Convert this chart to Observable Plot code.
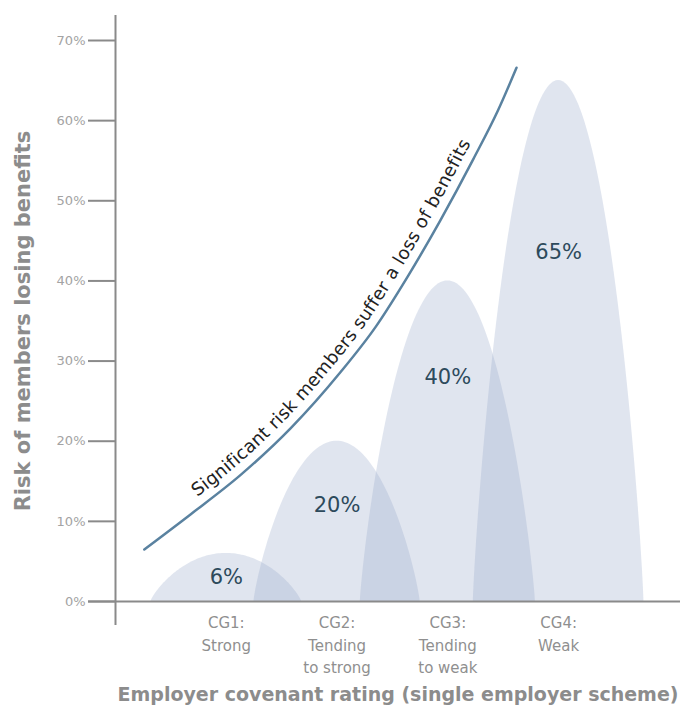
<!DOCTYPE html>
<html>
<head>
<meta charset="utf-8">
<script src="https://cdn.jsdelivr.net/npm/d3@7"></script>
<script src="https://cdn.jsdelivr.net/npm/@observablehq/plot@0.6"></script>
<style>
  body { margin: 0; background: #fff; }
  #chart svg { display: block; }
</style>
</head>
<body>
<div id="chart"></div>
<script>
// ---- data ----
const categories = ["CG1", "CG2", "CG3", "CG4"];
const ratings = ["Strong", "Tending\nto strong", "Tending\nto weak", "Weak"];
const risk = [6, 20, 40, 65];
// trend curve (x in category units, y in %)
const curveX = [0.26, 0.68, 1.13, 1.58, 2.03, 2.35, 2.64, 2.93, 3.23, 3.45, 3.62];
const curveY = [6.5, 10.9, 15.8, 21.6, 28.6, 34.3, 40.6, 47.5, 55.2, 61.2, 66.6];
const yTicks = [0, 10, 20, 30, 40, 50, 60, 70];
const curveText = "Significant risk members suffer a loss of benefits";
const yTitle = "Risk of members losing benefits";
const xTitle = "Employer covenant rating (single employer scheme)";

// ---- layout (shape) constants ----
const halfWidth = [0.68, 0.75, 0.79, 0.77];
const labelFrac = [0.5, 0.6, 0.7, 0.67];

// arch outlines built from each value
const arches = [];
risk.forEach((v, i) => {
  const c = i + 1, w = halfWidth[i], N = 120;
  for (let k = 0; k <= N; k++) {
    const u = -Math.cos(Math.PI * k / N);
    arches.push({cat: categories[i], x: c + w * u, y: v * Math.pow(Math.max(0, 1 - u * u), 1 / 1.2)});
  }
});
const curve = curveX.map((x, i) => ({x, y: curveY[i]}));

const font = "'DejaVu Sans', Verdana, sans-serif";

const plot = Plot.plot({
  width: 680,
  height: 707,
  marginLeft: 115,
  marginRight: 0,
  marginTop: 40,
  marginBottom: 106,
  x: {domain: [0, 5.1], axis: null},
  y: {domain: [0, 70], axis: null},
  style: {fontFamily: font, background: "#fff", overflow: "visible"},
  marks: [
    Plot.areaY(arches, {x: "x", y: "y", z: "cat", fill: "#98a8ca", fillOpacity: 0.3, curve: "linear"}),
    Plot.ruleX([0], {stroke: "#8a8a8a", strokeWidth: 2, insetTop: -25, insetBottom: -24}),
    Plot.ruleY([0], {stroke: "#8a8a8a", strokeWidth: 2, insetLeft: -27}),
    Plot.axisY({ticks: yTicks, tickSize: 27, tickPadding: 3, tickFormat: d => d + "%",
                fontSize: 13, stroke: "#8a8a8a", strokeWidth: 2, fill: "#a3a3a3", label: null}),
    Plot.line(curve, {x: "x", y: "y", stroke: "#5a82a0", strokeWidth: 2.5, curve: "monotone-x"}),
    Plot.text(risk, {x: (d, i) => i + 1, y: (d, i) => d * labelFrac[i], text: d => d + "%",
                     fontSize: 21, fill: "#2d4a5c"}),
    Plot.text(categories, {x: (d, i) => i + 1, y: () => 0, text: (d, i) => d + ":\n" + ratings[i],
                           lineAnchor: "top", dy: 11, fontSize: 15, lineHeight: 1.5, fill: "#8f8f8f"}),
    Plot.text([yTitle], {frameAnchor: "left", textAnchor: "middle", lineAnchor: "middle", rotate: -90, dx: -92,
                         fontSize: 21, fontWeight: "bold", fill: "#8c8c8c"}),
    Plot.text([xTitle], {frameAnchor: "bottom", textAnchor: "middle", lineAnchor: "middle", dy: 93,
                         fontSize: 19, fontWeight: "bold", fill: "#8c8c8c"})
  ]
});

// text following the trend curve
const ns = "http://www.w3.org/2000/svg";
const path = plot.querySelector('g[aria-label="line"] path');
if (path) {
  path.setAttribute("id", "riskCurve");
  const t = document.createElementNS(ns, "text");
  t.setAttribute("font-size", 18);
  t.setAttribute("font-family", font);
  t.setAttribute("fill", "#222");
  t.setAttribute("stroke", "none");
  t.setAttribute("text-anchor", "start");
  const tp = document.createElementNS(ns, "textPath");
  tp.setAttribute("href", "#riskCurve");
  tp.setAttribute("startOffset", 74);
  const ts = document.createElementNS(ns, "tspan");
  ts.setAttribute("dy", -9);
  ts.setAttribute("letter-spacing", 0.3);
  ts.textContent = curveText;
  tp.appendChild(ts);
  t.appendChild(tp);
  plot.appendChild(t);
}

document.getElementById("chart").appendChild(plot);
</script>
</body>
</html>
